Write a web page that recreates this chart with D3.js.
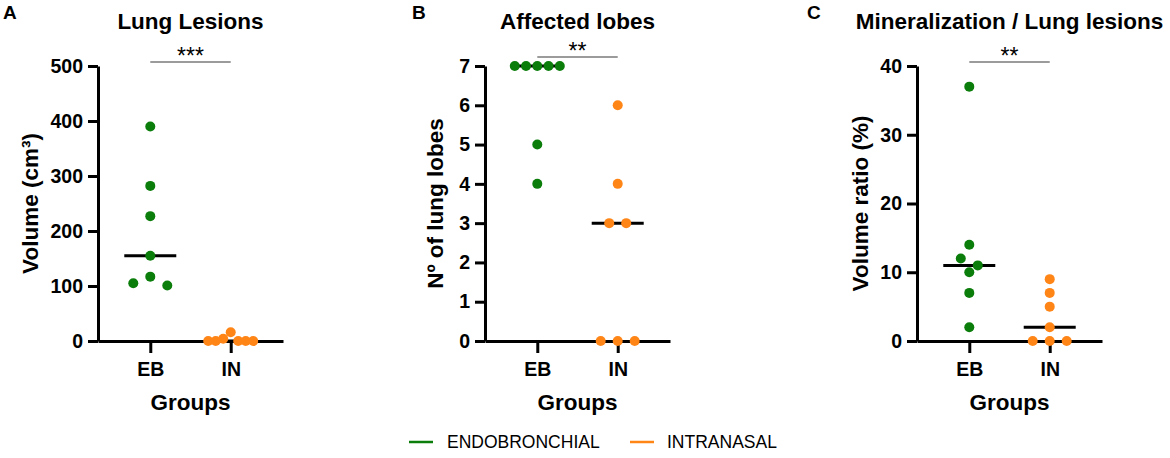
<!DOCTYPE html>
<html>
<head>
<meta charset="utf-8">
<script src="https://cdn.jsdelivr.net/npm/d3@7"></script>
<style>
  body { margin: 0; background: #fff; }
  svg { display: block; font-family: "Liberation Sans", Arial, sans-serif; }
</style>
</head>
<body>
<div id="chart"></div>
<script>
// data
const groups = ['EB', 'IN'];
const legendLabels = ['ENDOBRONCHIAL', 'INTRANASAL'];
const colors = ['#0b7d0b', '#ff8517'];

const lesionsEB = [390, 282, 227, 155, 117, 105, 101];
const lesionsIN = [16, 4, 0, 0, 0, 0, 0];
const lesionTicks = [0, 100, 200, 300, 400, 500];

const lobesEB = [7, 7, 7, 7, 7, 5, 4];
const lobesIN = [6, 4, 3, 3, 0, 0, 0];
const lobeTicks = [0, 1, 2, 3, 4, 5, 6, 7];

const ratioEB = [37, 14, 12, 11, 10, 7, 2];
const ratioIN = [9, 7, 5, 2, 0, 0, 0];
const ratioTicks = [0, 10, 20, 30, 40];

const letters = ['A', 'B', 'C'];
const titles = ['Lung Lesions', 'Affected lobes', 'Mineralization / Lung lesions'];
const yLabels = ['Volume (cm³)', 'Nº of lung lobes', 'Volume ratio (%)'];
const stars = ['***', '**', '**'];

const width = 1170, height = 458;
const plotTop = 66, plotBottom = 341, plotW = 185;
const r = 5;

const panels = [
  {x: 98,  letterX: 3,   sigY: 62, labelOff: 60, ticks: lesionTicks, data: [lesionsEB, lesionsIN]},
  {x: 485, letterX: 412, sigY: 57, labelOff: 42, ticks: lobeTicks,   data: [lobesEB, lobesIN]},
  {x: 917, letterX: 807, sigY: 62, labelOff: 49, ticks: ratioTicks,  data: [ratioEB, ratioIN]}
];

const svg = d3.select('#chart').append('svg')
  .attr('width', width)
  .attr('height', height)

// prism-like swarm: bin points that overlap vertically, spread each bin around the group centre
const swarm = (values, y, cx) => {
  let sorted = values.slice().sort((a, b) => b - a);
  let bins = [];
  sorted.forEach(v => {
    let last = bins[bins.length - 1];
    if (last && y(v) - y(last[0]) < 2 * r) last.push(v);
    else bins.push([v]);
  })
  let out = [];
  bins.forEach(bin => {
    let n = bin.length;
    let sp = n > 1 ? Math.min(17, 45 / (n - 1)) : 0;
    let slots = d3.range(n).map(i => (i - (n - 1) / 2) * sp)
      .sort((a, b) => Math.abs(a) - Math.abs(b) || a - b);
    bin.forEach((v, i) => out.push({v: v, x: cx + slots[i], y: y(v)}));
  })
  return out;
}

panels.forEach((p, i) => {

  let g = svg.append('g').attr('transform', `translate(${p.x},0)`);

  let xScale = d3.scalePoint()
    .domain(groups)
    .range([0, plotW])
    .padding(0.65);

  let yScale = d3.scaleLinear()
    .domain([0, d3.max(p.ticks)])
    .range([plotBottom, plotTop]);

  // median bars
  p.data.forEach((vals, k) => {
    let m = d3.median(vals);
    g.append('line')
      .attr('x1', xScale(groups[k]) - 26)
      .attr('x2', xScale(groups[k]) + 26)
      .attr('y1', yScale(m))
      .attr('y2', yScale(m))
      .attr('stroke', '#000')
      .attr('stroke-width', 3);
  })

  // axes
  let yAx = g.append('g')
    .call(d3.axisLeft(yScale).tickValues(p.ticks).tickFormat(d3.format('d'))
      .tickSize(10).tickPadding(5).tickSizeOuter(0));

  let xAx = g.append('g')
    .attr('transform', `translate(0,${plotBottom})`)
    .call(d3.axisBottom(xScale).tickSize(12).tickPadding(9).tickSizeOuter(0));

  [yAx, xAx].forEach(ax => {
    ax.select('.domain').attr('stroke', '#000').attr('stroke-width', 3);
    ax.selectAll('.tick line').attr('stroke', '#000').attr('stroke-width', 3);
    ax.selectAll('.tick text')
      .attr('fill', '#000')
      .style('font-family', '"Liberation Sans", Arial, sans-serif')
      .style('font-size', '19.5px')
      .style('font-weight', 'bold');
  })

  // dots
  p.data.forEach((vals, k) => {
    g.append('g')
      .selectAll('circle')
      .data(swarm(vals, yScale, xScale(groups[k])))
      .enter()
      .append('circle')
      .attr('cx', d => d.x)
      .attr('cy', d => d.y)
      .attr('r', r)
      .attr('fill', colors[k]);
  })

  // significance bar
  g.append('line')
    .attr('x1', xScale(groups[0]))
    .attr('x2', xScale(groups[1]))
    .attr('y1', p.sigY)
    .attr('y2', p.sigY)
    .attr('stroke', '#7a7a7a')
    .attr('stroke-width', 1.5);

  g.append('text')
    .attr('x', (xScale(groups[0]) + xScale(groups[1])) / 2)
    .attr('y', p.sigY + 2)
    .attr('text-anchor', 'middle')
    .style('font-size', '23px')
    .text(stars[i]);

  // titles and labels
  g.append('text')
    .attr('x', plotW / 2)
    .attr('y', 29)
    .attr('text-anchor', 'middle')
    .style('font-size', '22.5px')
    .style('font-weight', 'bold')
    .text(titles[i]);

  g.append('text')
    .attr('transform', `translate(${-p.labelOff},${(plotTop + plotBottom) / 2}) rotate(-90)`)
    .attr('text-anchor', 'middle')
    .style('font-size', '22.5px')
    .style('font-weight', 'bold')
    .text(yLabels[i]);

  g.append('text')
    .attr('x', (xScale(groups[0]) + xScale(groups[1])) / 2)
    .attr('y', 410)
    .attr('text-anchor', 'middle')
    .style('font-size', '22.5px')
    .style('font-weight', 'bold')
    .text('Groups');

  svg.append('text')
    .attr('x', p.letterX)
    .attr('y', 19)
    .style('font-size', '19px')
    .style('font-weight', 'bold')
    .text(letters[i]);
})

// legend
const legendX = [409, 630];
let legend = svg.append('g')
  .selectAll('g')
  .data(legendLabels)
  .enter()
  .append('g')
  .attr('transform', (d, i) => `translate(${legendX[i]},442)`);

legend.append('line')
  .attr('x1', 0)
  .attr('x2', 24)
  .attr('stroke', (d, i) => colors[i])
  .attr('stroke-width', 2.5);

legend.append('text')
  .attr('x', (d, i) => i === 0 ? 38 : 37)
  .attr('y', 6)
  .style('font-size', '17.5px')
  .text(d => d);
</script>
</body>
</html>
